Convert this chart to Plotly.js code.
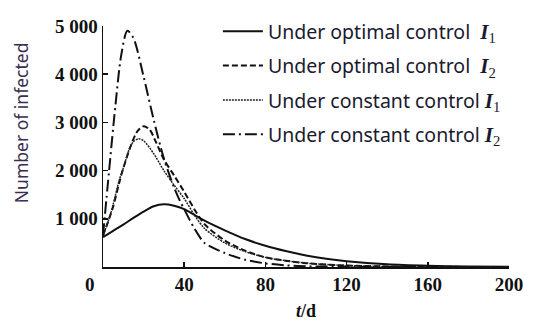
<!DOCTYPE html>
<html>
<head>
<meta charset="utf-8">
<script src="https://cdn.plot.ly/plotly-3.0.1.min.js"></script>
<style>html,body{margin:0;padding:0;background:#fff;}#chart{width:533px;height:327px;}</style>
</head>
<body>
<div id="chart"></div>
<script>
// Days (t/d)
const tOptI1 = [0, 5, 10, 15, 20, 25, 30, 35, 40, 45, 50, 60, 70, 80, 90, 100, 110, 120, 140, 160, 180, 200];
const vOptI1 = [620, 750, 880, 1020, 1150, 1260, 1300, 1270, 1200, 1080, 960, 760, 580, 440, 330, 240, 170, 120, 55, 25, 10, 5];

const tOptI2 = [0, 3, 5, 8, 10, 14, 17, 20, 23, 26, 30, 35, 40, 45, 50, 60, 70, 80, 90, 100, 120, 140, 160, 200];
const vOptI2 = [650, 1000, 1250, 1750, 2050, 2550, 2820, 2920, 2850, 2600, 2230, 1900, 1560, 1200, 890, 550, 340, 200, 130, 80, 30, 12, 5, 0];

const tConI1 = [0, 3, 5, 8, 10, 13, 15, 17.5, 20, 25, 30, 35, 40, 45, 50, 60, 70, 80, 90, 100, 120, 140, 160, 200];
const vConI1 = [650, 1000, 1300, 1800, 2050, 2450, 2600, 2660, 2620, 2350, 2000, 1700, 1420, 1080, 800, 500, 320, 200, 130, 80, 30, 12, 5, 0];

const tConI2 = [0, 3, 6, 9, 12, 15, 20, 25, 30, 35, 38, 40, 45, 50, 60, 70, 80, 90, 100, 120, 160, 200];
const vConI2 = [650, 2000, 3300, 4400, 4900, 4750, 3950, 3050, 2250, 1650, 1360, 1200, 800, 500, 290, 150, 75, 35, 15, 5, 0, 0];

const seriesNames = ['Under optimal control', 'Under optimal control', 'Under constant control', 'Under constant control'];
const seriesSubs = ['1', '2', '1', '2'];

const yTickVals = [1000, 2000, 3000, 4000, 5000];
const yTickText = ['1 000', '2 000', '3 000', '4 000', '5 000'];
const xTickVals = [40, 80, 120, 160, 200];
const xTickText = ['40', '80', '120', '160', '200'];

function legName(i, gap) {
  return seriesNames[i] + gap + '<span style="font-family:\'Liberation Serif\';font-size:21px;"><b><i>I</i></b><sub>' + seriesSubs[i] + '</sub></span>';
}

const lineStyles = [
  {color: '#111', width: 2, dash: 'solid'},
  {color: '#111', width: 2, dash: '6px,3px'},
  {color: '#222', width: 1.5, dash: '2px,1px'},
  {color: '#111', width: 2, dash: '12px,4px,2px,4px'}
];
const xs = [tOptI1, tOptI2, tConI1, tConI2];
const ys = [vOptI1, vOptI2, vConI1, vConI2];
const gaps = ['  ', '  ', ' ', ' '];

const traces = xs.map((x, i) => ({
  x: x, y: ys[i], type: 'scatter', mode: 'lines',
  line: Object.assign({shape: 'spline', smoothing: 0.8}, lineStyles[i]),
  name: legName(i, gaps[i]), legendgroup: 'g' + i
}));

const tickFont = {family: '"Liberation Serif", "Times New Roman", serif', size: 19, color: '#111', weight: 'bold'};

const layout = {
  width: 533, height: 327,
  margin: {l: 103, r: 24, t: 21, b: 60},
  paper_bgcolor: '#fff', plot_bgcolor: '#fff',
  showlegend: true,
  legend: {
    x: 0.283, y: 1.058, xanchor: 'left', yanchor: 'top',
    font: {family: '"Noto Sans", sans-serif', size: 19.5, color: '#1a1a2e'},
    bgcolor: 'rgba(0,0,0,0)', tracegroupgap: 6, itemwidth: 40
  },
  xaxis: {
    range: [0, 200], showgrid: false, zeroline: false,
    showline: true, linecolor: '#111', linewidth: 1.5,
    ticks: 'inside', ticklen: 5, tickcolor: '#111', tickwidth: 1.5,
    tickvals: xTickVals, ticktext: xTickText, tickfont: tickFont,
    title: {text: '<i>t</i>/d', font: {family: '"Liberation Serif", serif', size: 18, color: '#111', weight: 'bold'}, standoff: 10}
  },
  yaxis: {
    range: [0, 5000], showgrid: false, zeroline: false,
    showline: true, linecolor: '#111', linewidth: 1.5,
    ticks: 'inside', ticklen: 5, tickcolor: '#111', tickwidth: 1.5,
    tickvals: yTickVals, ticktext: yTickText, tickfont: tickFont
  },
  annotations: [
    {text: '0', xref: 'paper', yref: 'paper', x: -0.031, y: -0.073, xanchor: 'center', yanchor: 'middle', showarrow: false, font: tickFont},
    {text: 'Number of infected', xref: 'paper', yref: 'paper', x: -0.2, y: 0.6, xanchor: 'center', yanchor: 'middle', textangle: -90, showarrow: false, font: {family: '"Noto Sans", sans-serif', size: 17.5, color: '#3a2d4f'}}
  ]
};

Plotly.newPlot('chart', traces, layout, {displayModeBar: false, staticPlot: true});
</script>
</body>
</html>
